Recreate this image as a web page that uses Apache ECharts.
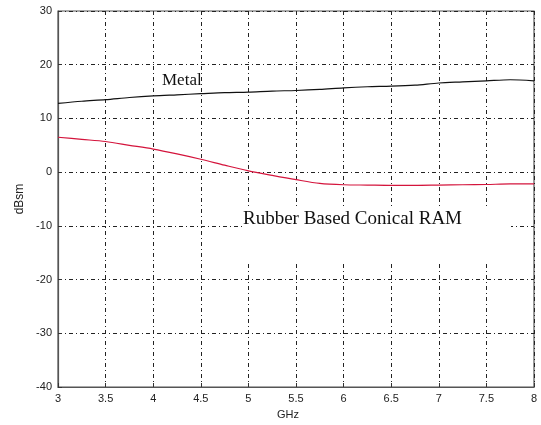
<!DOCTYPE html>
<html>
<head>
<meta charset="utf-8">
<script src="https://cdn.jsdelivr.net/npm/echarts@6/dist/echarts.min.js"></script>
<style>
  html, body { margin: 0; padding: 0; background: #ffffff; }
  #chart { width: 541px; height: 425px; }
</style>
</head>
<body>
<div id="chart"></div>
<script>
// Frequency samples (GHz)
const freqGHz = [3, 3.25, 3.5, 3.75, 4, 4.25, 4.5, 4.75, 5, 5.25, 5.5, 5.75, 6, 6.25, 6.5, 6.75, 7, 7.25, 7.5, 7.75, 8];
// RCS of the metal cone (dBsm)
const metalRcs = [12.8, 13.2, 13.5, 13.9, 14.2, 14.4, 14.6, 14.8, 14.9, 15.1, 15.2, 15.4, 15.7, 15.9, 16.0, 16.2, 16.6, 16.8, 17.0, 17.2, 17.0];
// RCS of the rubber based conical RAM (dBsm)
const ramRcs = [6.5, 6.1, 5.7, 5.0, 4.3, 3.4, 2.4, 1.3, 0.25, -0.6, -1.4, -2.1, -2.35, -2.4, -2.45, -2.45, -2.4, -2.35, -2.3, -2.2, -2.2];
// Tick labels
const xTicks = ['3', '3.5', '4', '4.5', '5', '5.5', '6', '6.5', '7', '7.5', '8'];
const yTicks = ['-40', '-30', '-20', '-10', '0', '10', '20', '30'];

const chart = echarts.init(document.getElementById('chart'));

const gridDash = { color: '#222', width: 1, type: [4, 3, 1, 3] };
const tickFont = { fontFamily: 'Liberation Sans, Arial', fontSize: 11, color: '#222' };

chart.setOption({
  animation: false,
  backgroundColor: '#ffffff',
  grid: { left: 58, right: 7, top: 11, bottom: 36, show: true, borderColor: '#555', borderWidth: 1.2, backgroundColor: '#ffffff' },
  xAxis: {
    type: 'value', min: 3, max: 8, interval: 0.5,
    name: 'GHz', nameLocation: 'middle', nameGap: 22,
    nameTextStyle: { fontFamily: 'Liberation Sans, Arial', fontSize: 11, color: '#222', padding: [0, 16, 0, 0] },
    axisLine: { show: true, onZero: false, lineStyle: { color: '#555', width: 1.2 } },
    axisTick: { show: true, inside: true, length: 4, lineStyle: { color: '#333' } },
    axisLabel: Object.assign({ margin: 6, formatter: v => { const s = String(v); return xTicks.includes(s) ? s : ''; } }, tickFont),
    splitLine: { show: true, lineStyle: gridDash }
  },
  yAxis: {
    type: 'value', min: -40, max: 30, interval: 10,
    name: 'dBsm', nameLocation: 'middle', nameGap: 27, nameRotate: 90,
    nameTextStyle: { fontFamily: 'Liberation Sans, Arial', fontSize: 12, color: '#222' },
    axisLine: { show: true, onZero: false, lineStyle: { color: '#555', width: 1.2 } },
    axisTick: { show: true, inside: true, length: 4, lineStyle: { color: '#333' } },
    axisLabel: Object.assign({ margin: 6, formatter: v => { const s = String(v); return yTicks.includes(s) ? s : ''; } }, tickFont),
    splitLine: { show: true, lineStyle: gridDash }
  },
  series: [
    {
      name: 'Metal', type: 'line', smooth: 0.3, showSymbol: false,
      lineStyle: { color: '#111', width: 1.2 },
      data: freqGHz.map((f, i) => [f, metalRcs[i]]),
      z: 5
    },
    {
      name: 'Rubber Based Conical RAM', type: 'line', smooth: 0.3, showSymbol: false,
      lineStyle: { color: '#d4143c', width: 1.2 },
      data: freqGHz.map((f, i) => [f, ramRcs[i]]),
      z: 5
    }
  ],
  graphic: [
    { type: 'rect', z: 50, shape: { x: 243, y: 207, width: 268, height: 56 }, style: { fill: '#ffffff' } },
    { type: 'text', z: 51, x: 243, y: 210, style: { text: 'Rubber Based Conical RAM', font: '19px "Liberation Serif", "Times New Roman", serif', fill: '#111' } },
    { type: 'text', z: 51, x: 162, y: 72, style: { text: 'Metal', font: '17px "Liberation Serif", "Times New Roman", serif', fill: '#111' } }
  ]
});
</script>
</body>
</html>
